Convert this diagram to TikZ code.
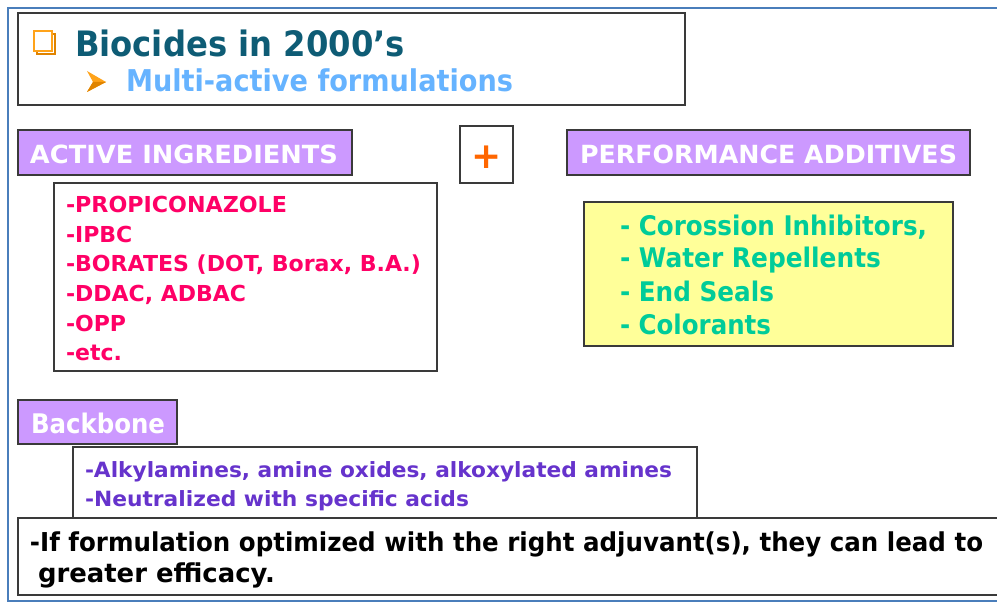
\documentclass[tikz,border=0pt]{standalone}
\usepackage{fontspec}
\usepackage{graphicx}
\setmainfont{DejaVu Sans}
\definecolor{frameblue}{HTML}{4A7EBB}
\definecolor{boxgray}{HTML}{3A3A3A}
\definecolor{titleteal}{HTML}{0E5C75}
\definecolor{subblue}{HTML}{66B3FF}
\definecolor{bulletorange}{HTML}{FFA31A}
\definecolor{bulletdark}{HTML}{E08400}
\definecolor{lilac}{HTML}{CC99FF}
\definecolor{plusorange}{HTML}{FF6600}
\definecolor{listred}{HTML}{FF0066}
\definecolor{paleyellow}{HTML}{FFFF99}
\definecolor{mint}{HTML}{00CC99}
\definecolor{violet}{HTML}{6633CC}
\newcommand\fitw[2]{\resizebox{#1}{\height}{#2}}
\tikzset{
  x=1pt, y=-1pt,
  box/.style={draw=boxgray, line width=1.5pt, anchor=north west, inner sep=0pt, outer sep=0pt},
  tag/.style={box, fill=lilac},
  txt/.style={anchor=base west, inner sep=0pt, outer sep=0pt},
}
\begin{document}
\begin{tikzpicture}
\useasboundingbox (0,0) rectangle (997,607);
% slide frame
\draw[frameblue, line width=1.5pt] (997,8) -- (8,8) -- (8,601) -- (997,601);

% title box
\node[box, minimum width=667pt, minimum height=92pt] (titlebox) at (18,13) {};
\draw[bulletdark, line width=2.5pt] (37,34) rectangle (55,54);
\draw[bulletorange, line width=2.5pt, fill=white] (34,31) rectangle (52,51);
\fill[bulletorange] (87,71) -- (106,82) -- (87,92) -- (93,82) -- cycle;
\fill[bulletdark] (93,82) -- (106,82) -- (87,92) -- cycle;
\node[txt, text=titleteal, font=\bfseries\fontsize{35}{35}\selectfont] (title) at (75,57) {\fitw{330pt}{Biocides in 2000’s}};
\node[txt, text=subblue, font=\bfseries\fontsize{30}{30}\selectfont] (sub) at (126,92) {\fitw{387pt}{Multi-active formulations}};

% active ingredients
\node[tag, minimum width=334pt, minimum height=45pt] (aibox) at (18,130) {};
\node[txt, text=white, font=\bfseries\fontsize{25}{25}\selectfont] (ai) at (30,164) {\fitw{308pt}{ACTIVE INGREDIENTS}};

\node[box, minimum width=53pt, minimum height=57pt] (plusbox) at (460,126) {};
\node[text=plusorange, font=\bfseries\fontsize{36}{36}\selectfont, inner sep=0pt] (plus) at (487,157) {+};

\node[tag, minimum width=403pt, minimum height=45pt] (pabox) at (567,130) {};
\node[txt, text=white, font=\bfseries\fontsize{25}{25}\selectfont] (pa) at (580,164) {\fitw{377pt}{PERFORMANCE ADDITIVES}};

% ingredient list
\node[box, minimum width=383pt, minimum height=188pt] (listbox) at (54,183) {};
\begin{scope}[every node/.style={txt, text=listred, font=\bfseries\fontsize{22}{22}\selectfont}]
\node (l1) at (66,213) {\fitw{221pt}{-PROPICONAZOLE}};
\node (l2) at (66,243) {-IPBC};
\node (l3) at (66,272) {\fitw{355pt}{-BORATES (DOT, Borax, B.A.)}};
\node (l4) at (66,301) {-DDAC, ADBAC};
\node (l5) at (66,331) {-OPP};
\node (l6) at (66,360) {-etc.};
\end{scope}

% additives list
\node[box, fill=paleyellow, minimum width=369pt, minimum height=144pt] (addbox) at (584,202) {};
\begin{scope}[every node/.style={txt, text=mint, font=\bfseries\fontsize{27}{27}\selectfont}]
\node (a1) at (620,236) {\fitw{307pt}{- Corossion Inhibitors,}};
\node (a2) at (620,268) {\fitw{261pt}{- Water Repellents}};
\node (a3) at (620,301) {\fitw{154pt}{- End Seals}};
\node (a4) at (620,334) {\fitw{151pt}{- Colorants}};
\end{scope}

% backbone
\node[tag, minimum width=159pt, minimum height=44pt] (bbbox) at (18,400) {};
\node[txt, text=white, font=\bfseries\fontsize{27}{27}\selectfont] (bb) at (31,433) {\fitw{134pt}{Backbone}};

\node[box, minimum width=624pt, minimum height=71pt] (alkbox) at (73,447) {};
\begin{scope}[every node/.style={txt, text=violet, font=\bfseries\fontsize{21}{21}\selectfont}]
\node (k1) at (85,477) {\fitw{587pt}{-Alkylamines, amine oxides, alkoxylated amines}};
\node (k2) at (85,506) {\fitw{384pt}{-Neutralized with specific acids}};
\end{scope}

% conclusion
\coordinate (cR1) at (997,518);
\coordinate (cR2) at (997,595);
\draw[boxgray, line width=1.5pt, fill=white] (cR1) -- (18,518) -- (18,595) -- (cR2);
\begin{scope}[every node/.style={txt, text=black, font=\bfseries\fontsize{26}{26}\selectfont}]
\node (c1) at (30,551) {\fitw{953pt}{-If formulation optimized with the right adjuvant(s), they can lead to}};
\node (c2) at (38,582) {\fitw{237pt}{greater efficacy.}};
\end{scope}
\end{tikzpicture}
\end{document}
